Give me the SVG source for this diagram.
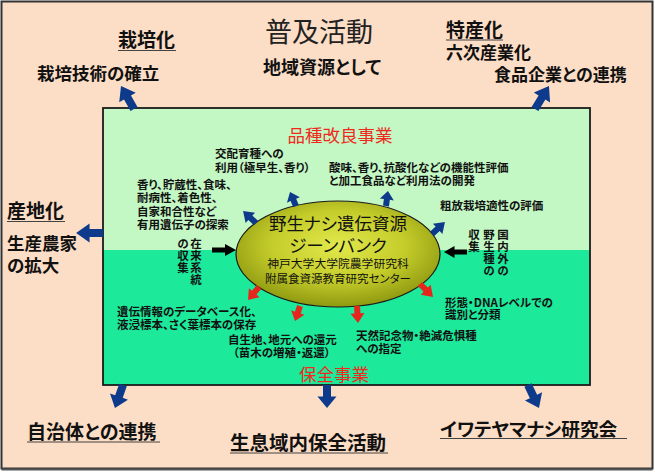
<svg xmlns="http://www.w3.org/2000/svg" xmlns:xlink="http://www.w3.org/1999/xlink" width="655" height="473" viewBox="0 0 655 473">
<style>
.t{font-family:"Noto Sans CJK JP","Noto Sans",sans-serif;fill:#111;font-feature-settings:"palt";}
.b{font-weight:700;}
.sm{font-size:11.5px;font-weight:700;}
.v{font-family:"Noto Sans CJK JP","Noto Sans",sans-serif;fill:#111;font-size:11.5px;font-weight:700;writing-mode:vertical-rl;letter-spacing:0.5px;}
.lab{font-size:17.5px;font-weight:700;}
.hd{font-size:19px;font-weight:700;}
.red{fill:#EE2A1E;font-size:17.5px;font-weight:400;}
.ul{stroke:#444;stroke-width:1.2;}
.blue{fill:#0E3A8C;}
.rd{fill:#E5261C;}
.bk{fill:#000;}
</style>
<defs>
<radialGradient id="eg" cx="50%" cy="42%" r="60%">
<stop offset="0" stop-color="#E2E94C"/>
<stop offset="0.55" stop-color="#C4CC2A"/>
<stop offset="1" stop-color="#8A950E"/>
</radialGradient>
<path id="big" d="M0,-4 L12,-4 L12,-9.5 L24,0 L12,9.5 L12,4 L0,4 Z"/>
<path id="small" d="M0,-3 L7,-3 L7,-7 L16,0 L7,7 L7,3 L0,3 Z"/>
<path id="blk" d="M0,-2.5 L13,-2.5 L13,-6 L24,0 L13,6 L13,2.5 L0,2.5 Z"/>
</defs>

<g id="frame">
<rect x="1.5" y="1.5" width="651" height="467" fill="#FCDDC5" stroke="#333" stroke-width="2"/>
<line x1="1.5" y1="469.5" x2="652.5" y2="469.5" stroke="#555" stroke-width="2"/>
</g>

<g id="title" class="t">
<text x="319" y="42" font-size="27" text-anchor="middle" fill="#222">普及活動</text>
<text x="322" y="74" font-size="18" class="b" text-anchor="middle">地域資源として</text>
</g>

<g id="saibai" class="t">
<text x="118" y="47" class="hd">栽培化</text>
<line class="ul" x1="118" y1="50.5" x2="176" y2="50.5"/>
<text x="37" y="79.5" class="lab">栽培技術の確立</text>
</g>

<g id="tokusan" class="t">
<text x="446" y="36.5" class="hd">特産化</text>
<line class="ul" x1="446" y1="40" x2="503" y2="40"/>
<text x="446" y="59" class="lab" style="font-size:17px">六次産業化</text>
<text x="494" y="81" class="lab" style="font-size:17px">食品企業との連携</text>
</g>

<g id="sanchi" class="t">
<text x="7" y="217.5" class="hd">産地化</text>
<line class="ul" x1="7" y1="221.5" x2="65" y2="221.5"/>
<text class="lab"><tspan x="7" y="249.5">生産農家</tspan><tspan x="7" y="271.5">の拡大</tspan></text>
</g>

<g id="jichitai" class="t">
<text x="27" y="438.5" class="hd">自治体との連携</text>
<line class="ul" x1="27" y1="442" x2="160" y2="442"/>
</g>

<g id="seisoku" class="t">
<text x="230" y="449.5" class="hd" style="font-size:19.5px">生息域内保全活動</text>
<line class="ul" x1="230" y1="453" x2="388" y2="453"/>
</g>

<g id="iwate" class="t">
<text x="440" y="435.5" class="hd" style="font-size:18.7px">イワテヤマナシ研究会</text>
<line class="ul" x1="440" y1="438.5" x2="627" y2="438.5"/>
</g>

<g id="innerbox">
<rect x="103" y="108" width="487" height="142" fill="#C3F7C3"/>
<rect x="103" y="250" width="487" height="135" fill="#1DE99B"/>
<rect x="103" y="108" width="487" height="277" fill="none" stroke="#1a1a1a" stroke-width="1.8"/>
</g>

<g id="hinshu" class="t">
<text x="340" y="142" class="red" text-anchor="middle">品種改良事業</text>
<text class="sm"><tspan x="215" y="157.5">交配育種への</tspan><tspan x="215" y="171.5">利用（極早生、香り）</tspan></text>
<text class="sm"><tspan x="329" y="172">酸味、香り、抗酸化などの機能性評価</tspan><tspan x="329" y="185">と加工食品など利用法の開発</tspan></text>
<text class="sm"><tspan x="137" y="188.5">香り、貯蔵性、食味、</tspan><tspan x="137" y="202">耐病性、着色性、</tspan><tspan x="137" y="215.5">自家和合性など</tspan><tspan x="137" y="229">有用遺伝子の探索</tspan></text>
<text x="440" y="210" class="sm">粗放栽培適性の評価</text>
</g>

<g id="zairai">
<text class="v" x="196" y="237.5">在来系統</text>
<text class="v" x="183" y="237.5">の収集</text>
</g>

<g id="kokunai">
<text class="v" x="503" y="228.5">国内外の</text>
<text class="v" x="489" y="228.5">野生種の</text>
<text class="v" x="474" y="228.5">収集</text>
</g>

<g id="hozen" class="t">
<text class="sm"><tspan x="117" y="316">遺伝情報のデータベース化、</tspan><tspan x="117" y="329">液浸標本、さく葉標本の保存</tspan></text>
<text class="sm"><tspan x="228" y="344">自生地、地元への還元</tspan><tspan x="233" y="357">（苗木の増殖・返還）</tspan></text>
<text class="sm"><tspan x="356" y="340">天然記念物・絶滅危惧種</tspan><tspan x="356" y="353">への指定</tspan></text>
<text class="sm"><tspan x="445" y="306.5">形態・DNAレベルでの</tspan><tspan x="445" y="319">識別と分類</tspan></text>
<text x="334" y="381" class="red" text-anchor="middle">保全事業</text>
</g>

<g id="genebank">
<ellipse cx="338" cy="254" rx="102" ry="53" fill="url(#eg)" stroke="#1a1a1a" stroke-width="1.2"/>
<g class="t" text-anchor="middle">
<text x="338" y="229.5" font-size="17.5">野生ナシ遺伝資源</text>
<text x="338" y="252" font-size="17.5">ジーンバンク</text>
<text x="338" y="267.5" font-size="11.8">神戸大学大学院農学研究科</text>
<text x="338" y="283" font-size="11.5">附属食資源教育研究センター</text>
</g>
</g>

<g id="connectors">
<use xlink:href="#big" class="blue" transform="translate(134,109) rotate(-119.5) scale(1.1,1)"/>
<use xlink:href="#big" class="blue" transform="translate(535,109) rotate(-58.7) scale(1.12,1)"/>
<use xlink:href="#big" class="blue" transform="translate(103,233) rotate(180) scale(1.12,1)"/>
<use xlink:href="#big" class="blue" transform="translate(123,385) rotate(109.2) scale(1.02,1)"/>
<use xlink:href="#big" class="blue" transform="translate(327,385) rotate(90) scale(0.96,1)"/>
<use xlink:href="#big" class="blue" transform="translate(528,385) rotate(64.4) scale(1.06,1)"/>
<use xlink:href="#small" class="blue" transform="translate(256,223) rotate(-137.3) scale(1.1,1)"/>
<use xlink:href="#small" class="blue" transform="translate(296,206) rotate(-113.2) scale(0.95,1)"/>
<use xlink:href="#small" class="blue" transform="translate(386,206) rotate(-82.4) scale(0.94,1)"/>
<use xlink:href="#small" class="blue" transform="translate(432,234) rotate(-42.7) scale(1.1,1)"/>
<use xlink:href="#small" class="rd" transform="translate(259,287) rotate(130.2) scale(1.06,1)"/>
<use xlink:href="#small" class="rd" transform="translate(300,306) rotate(108.4) scale(0.99,1)"/>
<use xlink:href="#small" class="rd" transform="translate(357,306) rotate(86.6) scale(1.06,1)"/>
<use xlink:href="#small" class="rd" transform="translate(420,284) rotate(45) scale(1.15,1)"/>
<use xlink:href="#blk" class="bk" transform="translate(212,250)"/>
<use xlink:href="#blk" class="bk" transform="translate(467,252) rotate(180) scale(0.96,1)"/>
</g>
</svg>
